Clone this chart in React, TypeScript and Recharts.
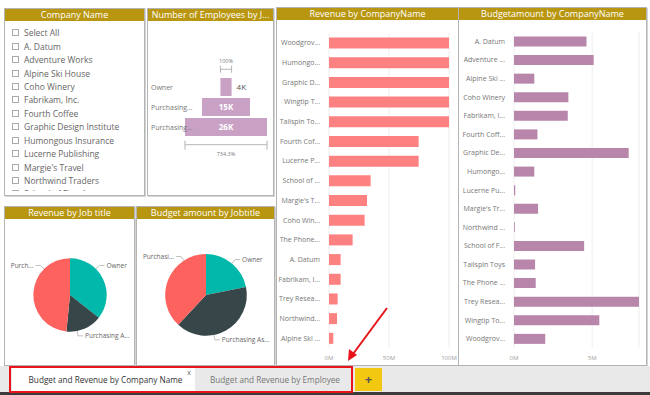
import React from 'react';
import {
  BarChart,
  Bar,
  XAxis,
  YAxis,
  CartesianGrid,
  Cell,
  PieChart,
  Pie,
} from 'recharts';

const FONT = '"Open Sans", "Segoe UI", sans-serif';
const GOLD = '#b8960f';
const REVENUE_COLOR = '#fd8181';
const BUDGET_COLOR = '#b886aa';
const FUNNEL_COLOR = '#c9a1c5';
const PIE_COLORS = ['#01b8aa', '#374649', '#fd625e'];

const slicerItems = [
  'Select All',
  'A. Datum',
  'Adventure Works',
  'Alpine Ski House',
  'Coho Winery',
  'Fabrikam, Inc.',
  'Fourth Coffee',
  'Graphic Design Institute',
  'Humongous Insurance',
  'Lucerne Publishing',
  "Margie's Travel",
  'Northwind Traders',
  'School of Fine Art',
];

// revenue, millions
const revenueCompanies = [
  'Woodgrove Bank', 'Humongous Insurance', 'Graphic Design Institute', 'Wingtip Toys',
  'Tailspin Toys', 'Fourth Coffee', 'Lucerne Publishing', 'School of Fine Art',
  "Margie's Travel", 'Coho Winery', 'The Phone Company', 'A. Datum',
  'Fabrikam, Inc.', 'Trey Research', 'Northwind Traders', 'Alpine Ski House',
];
const revenueLabels = [
  'Woodgrov...', 'Humongo...', 'Graphic D...', 'Wingtip T...', 'Tailspin To...', 'Fourth Cof...',
  'Lucerne P...', 'School of ...', "Margie's T...", 'Coho Win...', 'The Phone...', 'A. Datum',
  'Fabrikam, I...', 'Trey Resea...', 'Northwind...', 'Alpine Ski ...',
];
const revenueValues = [100, 100, 100, 100, 100, 74.7, 74.7, 34.7, 31.7, 29.7, 19.7, 9.7, 9.7, 7.2, 6.7, 3.6];
const revenueTicks = [0, 50, 100];

// budget amount, millions
const budgetCompanies = [
  'A. Datum', 'Adventure Works', 'Alpine Ski House', 'Coho Winery', 'Fabrikam, Inc.',
  'Fourth Coffee', 'Graphic Design Institute', 'Humongous Insurance', 'Lucerne Publishing',
  "Margie's Travel", 'Northwind Traders', 'School of Fine Art', 'Tailspin Toys',
  'The Phone Company', 'Trey Research', 'Wingtip Toys', 'Woodgrove Bank',
];
const budgetLabels = [
  'A. Datum', 'Adventure ...', 'Alpine Ski ...', 'Coho Winery', 'Fabrikam, I...', 'Fourth Coff...',
  'Graphic De...', 'Humongo...', 'Lucerne Pu...', "Margie's Tr...", 'Northwind ...', 'School of F...',
  'Tailspin Toys', 'The Phone ...', 'Trey Resea...', 'Wingtip To...', 'Woodgrov...',
];
const budgetValues = [4.64, 5.1, 1.3, 3.48, 3.44, 1.5, 7.34, 1.3, 0.08, 1.54, 0.05, 4.49, 1.35, 1.39, 8.0, 5.46, 2.0];
const budgetTicks = [0, 5];

// employees by job title, thousands
const jobTitles = ['Owner', 'Purchasing Assistant', 'Purchasing Manager'];
const funnelLabels = ['Owner', 'Purchasing...', 'Purchasing...'];
const employeeCounts = [3.541, 15.2, 26.0];

// pies: Owner, Purchasing Assistant, Purchasing Manager
const revenuePieLabels = ['Owner', 'Purchasing A...', 'Purch...'];
const revenueByJob = [286, 128, 389];
const budgetPieLabels = ['Owner', 'Purchasing As...', 'Purchasi...'];
const budgetByJob = [11.5, 21.0, 20.0];

function Panel({ x, y, w, h, title, children }: any) {
  return (
    <div
      style={{
        position: 'absolute',
        left: x,
        top: y,
        width: w,
        height: h,
        border: '1px solid #b4b4b4',
        boxShadow: '1px 1px 0 #d4d4d4',
        boxSizing: 'border-box',
        background: '#fff',
        overflow: 'hidden',
      }}
    >
      <div
        style={{
          height: 12,
          background: GOLD,
          color: '#fff',
          fontSize: 9,
          lineHeight: '12px',
          textAlign: 'center',
          whiteSpace: 'nowrap',
          overflow: 'hidden',
        }}
      >
        {title}
      </div>
      {children}
    </div>
  );
}

function CompanyBars({ names, labels, values, color, domain, ticks, width, height, yWidth, top, right, gap }: any) {
  const data = names.map((name: string, i: number) => ({ name, value: values[i] }));
  return (
    <BarChart
      width={width}
      height={height}
      data={data}
      layout="vertical"
      margin={{ top, right, bottom: 0, left: 0 }}
      barCategoryGap={gap}
    >
      <CartesianGrid horizontal={false} stroke="#eeeeee" />
      <XAxis
        type="number"
        domain={domain}
        ticks={ticks}
        tickFormatter={(v) => `${v}M`}
        axisLine={false}
        tickLine={false}
        height={18}
        tick={{ fontSize: 6, fill: '#a0a0a0', fontFamily: FONT }}
      />
      <YAxis
        type="category"
        dataKey="name"
        width={yWidth}
        interval={0}
        axisLine={false}
        tickLine={false}
        tick={(p: any) => (
          <text
            x={p.x - 1}
            y={p.y}
            dy={2.5}
            textAnchor="end"
            fontSize={7}
            fill="#777"
            fontFamily={FONT}
          >
            {labels[p.index]}
          </text>
        )}
      />
      <Bar dataKey="value" fill={color} isAnimationActive={false} />
    </BarChart>
  );
}

// value label, plus the Power BI funnel percentage brackets drawn off the bar geometry
function FunnelValue(p: any) {
  const { x, y, width, height, index } = p;
  const v = employeeCounts[index];
  const max = Math.max(...employeeCounts);
  const first = employeeCounts[0];
  const inside = width > 25;
  const st = { stroke: '#b5b5b5', strokeWidth: 1 };
  const small = { fontSize: 5.5, fill: '#777', fontFamily: FONT, textAnchor: 'middle' as const };
  const bottom = y + height;
  return (
    <g>
      <text
        x={inside ? x + width / 2 : x + width + 5}
        y={y + height / 2}
        dy={3}
        textAnchor={inside ? 'middle' : 'start'}
        fontSize={8}
        fontWeight={inside ? 700 : 400}
        fill={inside ? '#fff' : '#555'}
        fontFamily={FONT}
      >
        {`${Math.round(v)}K`}
      </text>
      {index === 0 && (
        <g>
          <line x1={x} x2={x + width} y1={y - 8.7} y2={y - 8.7} {...st} />
          <line x1={x} x2={x} y1={y - 12.2} y2={y - 5.2} {...st} />
          <line x1={x + width} x2={x + width} y1={y - 12.2} y2={y - 5.2} {...st} />
          <text x={x + width / 2} y={y - 15} {...small}>100%</text>
        </g>
      )}
      {v === max && (
        <g>
          <line x1={x} x2={x + width} y1={bottom + 8.7} y2={bottom + 8.7} {...st} />
          <line x1={x} x2={x} y1={bottom + 4.7} y2={bottom + 13.7} {...st} />
          <line x1={x + width} x2={x + width} y1={bottom + 4.7} y2={bottom + 13.7} {...st} />
          <text x={x + width / 2} y={bottom + 19.5} {...small}>
            {`${((max / first) * 100).toFixed(1)}%`}
          </text>
        </g>
      )}
    </g>
  );
}

function EmployeeFunnel() {
  const max = Math.max(...employeeCounts);
  const data = jobTitles.map((name, i) => ({
    name,
    pad: (max - employeeCounts[i]) / 2,
    value: employeeCounts[i],
  }));
  return (
    <BarChart
      width={126}
      height={175}
      data={data}
      layout="vertical"
      margin={{ top: 57, right: 6, bottom: 58, left: 0 }}
    >
      <XAxis type="number" domain={[0, max]} hide />
      <YAxis
        type="category"
        dataKey="name"
        width={38}
        interval={0}
        axisLine={false}
        tickLine={false}
        tick={(p: any) => (
          <text x={4} y={p.y} dy={3} fontSize={7} fill="#777" fontFamily={FONT}>
            {funnelLabels[p.index]}
          </text>
        )}
      />
      <Bar dataKey="pad" stackId="f" fill="transparent" barSize={18} isAnimationActive={false} />
      <Bar
        dataKey="value"
        stackId="f"
        fill={FUNNEL_COLOR}
        barSize={18}
        isAnimationActive={false}
        label={FunnelValue}
      />
    </BarChart>
  );
}

function makePieLabel(labels: string[], chartWidth: number) {
  return (props: any) => {
    const { cx, cy, midAngle, outerRadius, index } = props;
    // angle from 12 o'clock, clockwise; keep labels near top/bottom like Power BI
    let a = (((90 - midAngle) % 360) + 360) % 360;
    if (a > 45 && a < 90) a = 45;
    else if (a >= 90 && a < 135) a = 135;
    else if (a > 225 && a <= 270) a = 225;
    else if (a > 270 && a < 315) a = 315;
    const text = labels[index];
    const tw = text.length * 3.3;
    const place = (ang: number) => {
      const rad = (ang * Math.PI) / 180;
      const dx = Math.sin(rad);
      const dy = -Math.cos(rad);
      const right = dx >= -0.001;
      const ex = cx + (outerRadius + 5) * dx;
      const ey = cy + (outerRadius + 5) * dy;
      const hx = ex + (right ? 5 : -5);
      const tx = hx + (right ? 2 : -2);
      const fits = right ? tx + tw <= chartWidth : tx - tw >= 0;
      return { sx: cx + outerRadius * dx, sy: cy + outerRadius * dy, ex, ey, hx, tx, right, fits };
    };
    let p = place(a);
    for (let k = 0; k < 20 && !p.fits; k++) {
      const target = a > 90 && a < 270 ? 180 : a >= 270 ? 360 : 0;
      a += Math.sign(target - a) * 3;
      p = place(a);
    }
    return (
      <g>
        <polyline
          points={`${p.sx},${p.sy} ${p.ex},${p.ey} ${p.hx},${p.ey}`}
          stroke="#b0b0b0"
          strokeWidth={0.8}
          fill="none"
        />
        <text
          x={p.tx}
          y={p.ey}
          dy={2.5}
          textAnchor={p.right ? 'start' : 'end'}
          fontSize={6.5}
          fill="#666"
          fontFamily={FONT}
        >
          {text}
        </text>
      </g>
    );
  };
}

function JobPie({ values, labels, width, r }: any) {
  const data = jobTitles.map((name, i) => ({ name, value: values[i] }));
  return (
    <PieChart width={width} height={146} margin={{ top: 0, right: 0, bottom: 0, left: 0 }}>
      <Pie
        data={data}
        dataKey="value"
        cx="50%"
        cy="52%"
        outerRadius={r}
        startAngle={90}
        endAngle={-270}
        stroke="none"
        labelLine={false}
        label={makePieLabel(labels, width)}
        isAnimationActive={false}
      >
        {data.map((d, i) => (
          <Cell key={d.name} fill={PIE_COLORS[i]} />
        ))}
      </Pie>
    </PieChart>
  );
}

export default function App() {
  return (
    <div
      style={{
        position: 'absolute',
        left: 0,
        top: 0,
        width: 650,
        height: 395,
        background: '#fff',
        fontFamily: FONT,
        overflow: 'hidden',
      }}
    >
      <Panel x={4} y={8} w={141} h={188} title="Company Name">
        <div style={{ position: 'absolute', top: 17, left: 7, right: 2, bottom: 4, overflow: 'hidden' }}>
          {slicerItems.map((item) => (
            <div key={item} style={{ height: 13.45, display: 'flex', alignItems: 'center', whiteSpace: 'nowrap' }}>
              <span
                style={{
                  width: 5,
                  height: 5,
                  border: '1px solid #aaa',
                  marginRight: 5,
                  flex: 'none',
                }}
              />
              <span style={{ fontSize: 8.5, color: '#666' }}>{item}</span>
            </div>
          ))}
        </div>
      </Panel>

      <Panel x={147} y={8} w={127} h={188} title="Number of Employees by J...">
        <div style={{ position: 'absolute', left: -1, top: 11 }}>
          <EmployeeFunnel />
        </div>
      </Panel>

      <Panel x={276} y={7} w={183} h={359} title="Revenue by CompanyName">
        <div style={{ position: 'absolute', left: 0, top: 12 }}>
          <CompanyBars
            names={revenueCompanies}
            labels={revenueLabels}
            values={revenueValues}
            color={REVENUE_COLOR}
            domain={[0, 100]}
            ticks={revenueTicks}
            width={182}
            height={346}
            yWidth={52}
            top={13}
            right={10}
            gap="23%"
          />
        </div>
      </Panel>

      <Panel x={458} y={7} w={189} h={359} title="Budgetamount by CompanyName">
        <div style={{ position: 'absolute', left: 0, top: 12 }}>
          <CompanyBars
            names={budgetCompanies}
            labels={budgetLabels}
            values={budgetValues}
            color={BUDGET_COLOR}
            domain={[0, 8]}
            ticks={budgetTicks}
            width={188}
            height={346}
            yWidth={55}
            top={12}
            right={8}
            gap="24%"
          />
        </div>
      </Panel>

      <Panel x={4} y={206} w={131} h={160} title="Revenue by Job title">
        <div style={{ position: 'absolute', left: 0, top: 12 }}>
          <JobPie values={revenueByJob} labels={revenuePieLabels} width={130} r={36.7} />
        </div>
      </Panel>

      <Panel x={136} y={206} w={139} h={160} title="Budget amount by Jobtitle">
        <div style={{ position: 'absolute', left: 0, top: 12 }}>
          <JobPie values={budgetByJob} labels={budgetPieLabels} width={138} r={40.8} />
        </div>
      </Panel>

      {/* page tabs */}
      <div style={{ position: 'absolute', left: 0, top: 366, width: 650, height: 26, background: '#e9e9e9' }} />
      <div style={{ position: 'absolute', left: 0, top: 392, width: 650, height: 3, background: '#3b3b3b' }} />
      <div
        style={{
          position: 'absolute',
          left: 12,
          top: 368,
          width: 183,
          height: 23,
          background: '#fff',
          fontSize: 8.2,
          color: '#333',
          lineHeight: '23px',
          textAlign: 'center',
          paddingLeft: 4,
          boxSizing: 'border-box',
          whiteSpace: 'nowrap',
        }}
      >
        Budget and Revenue by Company Name
        <span style={{ position: 'absolute', right: 4, top: -7, fontSize: 7, color: '#666' }}>x</span>
      </div>
      <div
        style={{
          position: 'absolute',
          left: 196,
          top: 368,
          width: 158,
          height: 23,
          fontSize: 8.2,
          color: '#777',
          lineHeight: '23px',
          textAlign: 'center',
          whiteSpace: 'nowrap',
        }}
      >
        Budget and Revenue by Employee
      </div>
      <div
        style={{
          position: 'absolute',
          left: 355,
          top: 368,
          width: 27,
          height: 23,
          background: '#f2c811',
          color: '#555',
          fontSize: 13,
          fontWeight: 700,
          lineHeight: '22px',
          textAlign: 'center',
        }}
      >
        +
      </div>
      <div
        style={{
          position: 'absolute',
          left: 9,
          top: 366,
          width: 344,
          height: 27,
          border: '2px solid #e8141a',
          boxSizing: 'border-box',
        }}
      />
      <svg width={650} height={395} style={{ position: 'absolute', left: 0, top: 0, pointerEvents: 'none' }}>
        <line x1={387} y1={308} x2={353} y2={354} stroke="#e8141a" strokeWidth={2} />
        <polygon points="348,361 349,349 357,355" fill="#e8141a" />
      </svg>
    </div>
  );
}
